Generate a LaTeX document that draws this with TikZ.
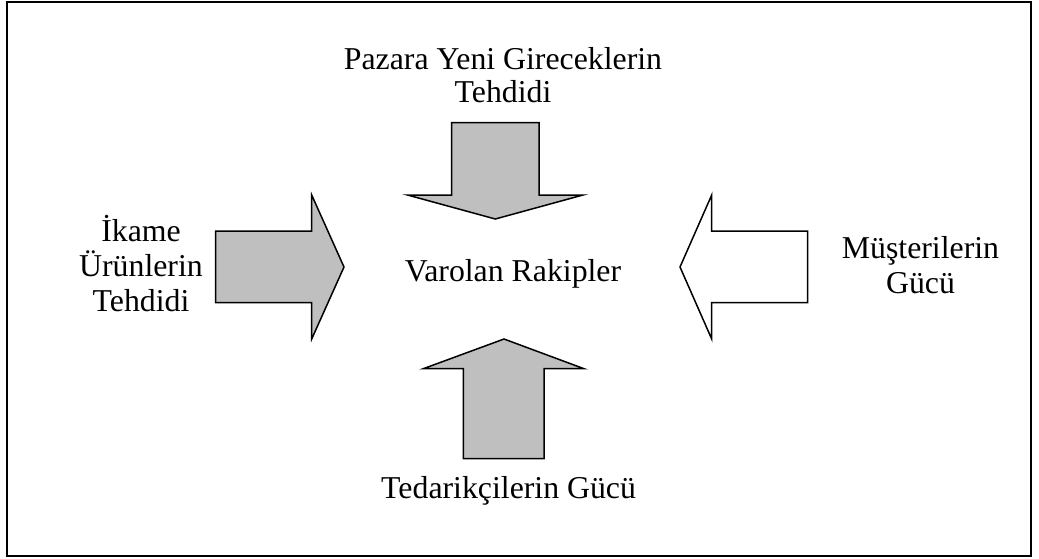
\documentclass[tikz,border=0pt]{standalone}
\usepackage{fontspec}
\setmainfont{Liberation Serif}
\begin{document}
\begin{tikzpicture}[x=1pt,y=-1pt,
  force/.style={draw=black,line width=1.5pt,line join=miter,fill=black!25},
  buyer/.style={draw=black,line width=1.5pt,line join=miter,fill=white},
  label/.style={font=\fontsize{31.8}{35}\selectfont,align=center,inner sep=0pt,anchor=base},
  toplabel/.style={font=\fontsize{31.8}{33.4}\selectfont,align=center,inner sep=0pt,anchor=base}]
  \useasboundingbox (0,0) rectangle (1039,558);
  % outer frame
  \draw[line width=2pt] (7,2) rectangle (1031,555.5);

  % new entrants: arrow pointing down
  \draw[force] (451.5,122.5) -- (539,122.5) -- (539,195) -- (583,195)
    -- (495.3,219) -- (407.5,195) -- (451.5,195) -- cycle;
  % suppliers: arrow pointing up
  \draw[force] (463.3,458.7) -- (544,458.7) -- (544,368.7) -- (584,368.7)
    -- (504,339) -- (423.3,368.7) -- (463.3,368.7) -- cycle;
  % substitutes: arrow pointing right
  \draw[force] (215.7,231) -- (311.7,231) -- (311.7,195) -- (344,267)
    -- (311.7,339) -- (311.7,302.7) -- (215.7,302.7) -- cycle;
  % buyers: arrow pointing left
  \draw[buyer] (807.7,231) -- (711.7,231) -- (711.7,195) -- (680,267)
    -- (711.7,339) -- (711.7,302.7) -- (807.7,302.7) -- cycle;

  % labels (anchor "base" is the baseline of the last line)
  \node[toplabel] (entrants) at (503,102.7) {Pazara Yeni Gireceklerin\\Tehdidi};
  \node[label] (rivals) at (513,281) {Varolan Rakipler};
  \node[label] (substitutes) at (141,311.7) {İkame\\Ürünlerin\\Tehdidi};
  \node[label] (buyers) at (920.5,293.3) {Müşterilerin\\Gücü};
  \node[label] (suppliers) at (508.6,498.3) {Tedarikçilerin Gücü};
\end{tikzpicture}
\end{document}
